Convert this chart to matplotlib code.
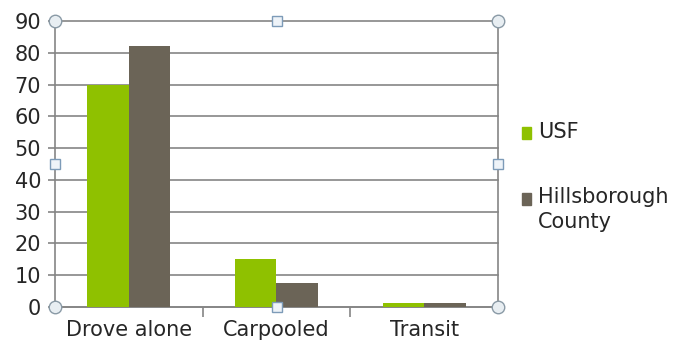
import matplotlib.pyplot as plt
import numpy as np

# data
categories = ['Drove alone', 'Carpooled', 'Transit']
usf = [70, 15, 1.3]
hillsborough = [82, 7.5, 1.2]
series_names = ['USF', 'Hillsborough\nCounty']

green = '#8fc100'
grey = '#6b6457'
text_col = '#262626'
line_col = '#858585'

plt.rcParams['font.family'] = ['DejaVu Sans']
fs = 15

fig = plt.figure(figsize=(6.81, 3.52), dpi=100)
ax = fig.add_axes([55 / 681, 1 - 307 / 352, (498 - 55) / 681, (307 - 21) / 352])

x = np.arange(len(categories))
w = 0.28
ax.bar(x - w / 2, usf, w, color=green, zorder=3)
ax.bar(x + w / 2, hillsborough, w, color=grey, zorder=3)

ax.set_xlim(-0.5, 2.5)
ax.set_ylim(0, 90)
ax.set_yticks(range(0, 91, 10))
ax.yaxis.grid(True, color=line_col, linewidth=1.2, zorder=0)
for gl in ax.get_ygridlines():
    gl.set_clip_on(False)

# category labels between tick marks
ax.set_xticks([0.5, 1.5])
ax.set_xticklabels([])
ax.set_xticks(x, minor=True)
ax.set_xticklabels(categories, minor=True, fontsize=fs, color=text_col)
ax.tick_params(axis='x', which='minor', length=0, pad=9)
ax.tick_params(axis='x', which='major', length=7, color=line_col, width=1.2)
ax.tick_params(axis='y', length=5, color=line_col, width=1.2, labelsize=fs,
               labelcolor=text_col, pad=5)

for side in ['left', 'right', 'bottom']:
    ax.spines[side].set_color(line_col)
    ax.spines[side].set_linewidth(1.2)
ax.spines['top'].set_visible(False)

# selection handles around the plot area
hx = [0, 1, 0, 1]
hy = [0, 0, 1, 1]
ax.plot(hx, hy, 'o', ms=9, mfc='#e8eef2', mec='#8a9aa6', mew=1,
        transform=ax.transAxes, clip_on=False, zorder=5)
sx = [0.5, 0.5, 0, 1]
sy = [0, 1, 0.5, 0.5]
ax.plot(sx, sy, 's', ms=7, mfc='#eef3f8', mec='#7d9bb8', mew=1,
        transform=ax.transAxes, clip_on=False, zorder=5)

# legend
fig.patches.append(plt.Rectangle((522 / 681, 1 - 139 / 352), 9 / 681, 12 / 352,
                                 color=green, transform=fig.transFigure))
fig.text(538 / 681, 1 - 132 / 352, series_names[0], fontsize=fs,
         color=text_col, va='center')
fig.patches.append(plt.Rectangle((522 / 681, 1 - 205 / 352), 9 / 681, 12 / 352,
                                 color=grey, transform=fig.transFigure))
fig.text(538 / 681, 1 - 187 / 352, series_names[1], fontsize=fs,
         color=text_col, va='top', linespacing=1.3)

fig.savefig('out.png', dpi=100)
